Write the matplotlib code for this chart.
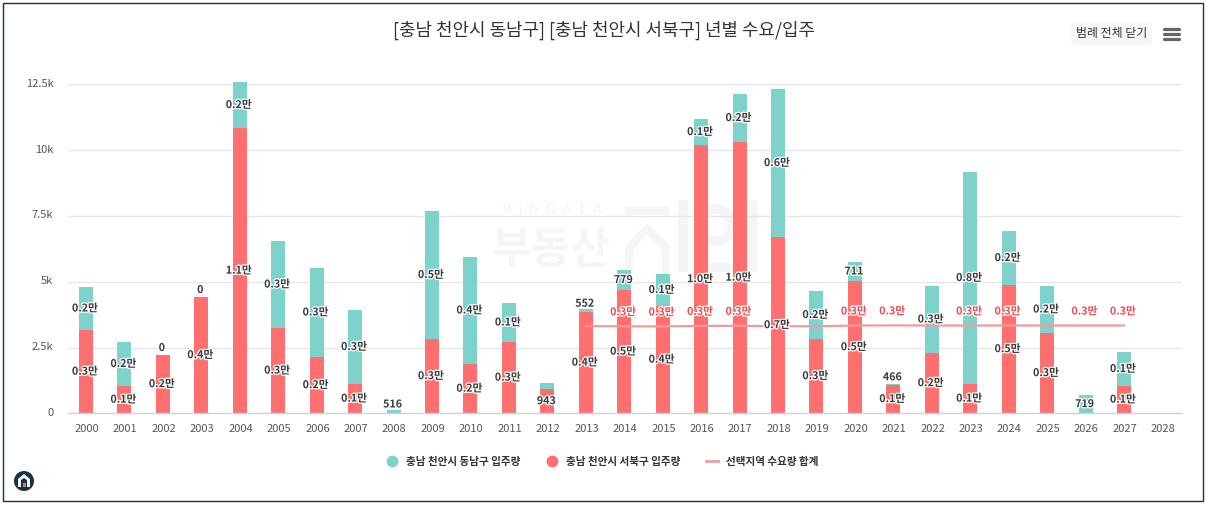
import matplotlib
matplotlib.use("Agg")
import matplotlib.patheffects as pe
import matplotlib.pyplot as plt
from matplotlib.lines import Line2D
from matplotlib.patches import Circle, FancyBboxPatch, Polygon, Rectangle
from matplotlib.transforms import ScaledTranslation

plt.rcParams["font.family"] = ["Noto Sans CJK KR", "DejaVu Sans"]

W, H = 1206, 505

years = list(range(2000, 2029))
seobuk = [3165, 1038, 2215, 4418, 10837, 3241, 2140, 1114, 0, 2823, 1874, 2709, 924, 3849, 4684,
          4077, 10191, 10305, 6697, 2823, 5026, 1076, 2291, 1114, 4874, 3051, 0, 1038, 0]
dongnam = [1633, 1671, 0, 0, 1747, 3304, 3380, 2811, 140, 4862, 4064, 1481, 228, 100, 760,
           1215, 988, 1823, 5621, 1823, 722, 51, 2545, 8052, 2051, 1785, 696, 1291, 0]
seobuk_labels = ["0.3만", "0.1만", "0.2만", "0.4만", "1.1만", "0.3만", "0.2만", "0.1만", "", "0.3만",
                 "0.2만", "0.3만", "943", "0.4만", "0.5만", "0.4만", "1.0만", "1.0만", "0.7만", "0.3만",
                 "0.5만", "0.1만", "0.2만", "0.1만", "0.5만", "0.3만", "", "0.1만", ""]
dongnam_labels = ["0.2만", "0.2만", "0", "0", "0.2만", "0.3만", "0.3만", "0.3만", "516", "0.5만",
                  "0.4만", "0.1만", "", "552", "779", "0.1만", "0.1만", "0.2만", "0.6만", "0.2만",
                  "711", "466", "0.3만", "0.8만", "0.2만", "0.2만", "719", "0.1만", ""]
demand_years = list(range(2013, 2028))
demand = [3310, 3305, 3300, 3320, 3325, 3310, 3305, 3335, 3340, 3335, 3335, 3335, 3335, 3335, 3335]
demand_labels = ["", "0.3만", "0.3만", "0.3만", "0.3만", "", "", "0.3만", "0.3만", "", "0.3만", "0.3만", "",
                 "0.3만", "0.3만"]
yticks = [0, 2500, 5000, 7500, 10000, 12500]
ytick_labels = ["0", "2.5k", "5k", "7.5k", "10k", "12.5k"]

TEAL = "#7dd3cb"
RED = "#ff6f6f"
LINE = "#ee9c9c"
DARK = "#3a3a3a"
WM = "#f5f5f5"
halo = [pe.withStroke(linewidth=1.8, foreground="white")]

fig = plt.figure(figsize=(W / 100, H / 100), dpi=100)
ax = fig.add_axes([68 / W, 1 - 413.3 / H, (1182 - 68) / W, (413.3 - 84.3) / H])
# whole-figure overlay in pixel coords for the page furniture
bg = fig.add_axes([0, 0, 1, 1], zorder=-1)
bg.set_xlim(0, W)
bg.set_ylim(H, 0)
bg.axis("off")
top = fig.add_axes([0, 0, 1, 1], zorder=5)
top.set_xlim(0, W)
top.set_ylim(H, 0)
top.axis("off")
top.patch.set_alpha(0)

bg.add_patch(Rectangle((3, 2.5), 1199.5, 498.5, fc="white", ec="#17324a", lw=1))

# watermark
bg.text(551, 250, "부동산", fontsize=31, color=WM, weight="bold", ha="center", va="center")
bg.text(552, 210, "B  I  G  D  A  T  A", fontsize=10.5, color=WM, ha="center", va="center")
bg.add_patch(Polygon([(625, 273), (625, 246), (647, 223), (670, 246), (670, 273), (662, 273), (662, 250),
                      (647, 234), (633, 250), (633, 273)], fc=WM, ec="none"))
bg.add_patch(Rectangle((625, 207), 45, 8, fc=WM, ec="none"))
bg.add_patch(Rectangle((678, 200), 10, 72, fc=WM, ec="none"))
bg.add_patch(Rectangle((748, 200), 10, 72, fc=WM, ec="none"))
bg.add_patch(Circle((716, 225), 16, fc="none", ec=WM, lw=7))
bg.add_patch(Rectangle((700, 263), 58, 9, fc=WM, ec="none"))
ax.patch.set_alpha(0)

ax.bar(years, seobuk, width=0.364, color=RED, zorder=2, clip_on=False)
ax.bar(years, dongnam, width=0.364, bottom=seobuk, color=TEAL, zorder=2, clip_on=False)
ax.plot(demand_years, demand, color=LINE, lw=1.6, zorder=3)

for x, r, t, rl, tl in zip(years, seobuk, dongnam, seobuk_labels, dongnam_labels):
    if rl:
        ax.annotate(rl, (x, r / 2), xytext=(-1, 0), textcoords="offset pixels", ha="center", va="center",
                    fontsize=7.7, color=DARK, weight="bold", path_effects=halo, zorder=4)
    if tl:
        # thin segments get pushed above the bar, same as the original
        dy = 7 if t < 200 else 0
        ax.annotate(tl, (x, r + t / 2), xytext=(-1, dy), textcoords="offset pixels", ha="center", va="center",
                    fontsize=7.7, color=DARK, weight="bold", path_effects=halo, zorder=4)
for x, v, lab in zip(demand_years, demand, demand_labels):
    if lab:
        ax.annotate(lab, (x, v), xytext=(-1, 14), textcoords="offset pixels", ha="center", va="center",
                    fontsize=7.7, color="#f04a50", weight="bold", path_effects=halo, zorder=4)

ax.set_xlim(1999.532, 2028.51)
ax.set_ylim(0, 12500)
ax.set_xticks(years)
ax.set_xticklabels(years, fontsize=8, color="#555555")
ax.set_yticks(yticks)
ax.set_yticklabels(ytick_labels, fontsize=8, color="#555555")
ax.tick_params(axis="both", length=0)
ax.tick_params(axis="x", pad=7.5)
ax.tick_params(axis="y", pad=10.5)
for lab in ax.get_yticklabels():
    lab.set_transform(lab.get_transform() + ScaledTranslation(0, 1.5 / 100, fig.dpi_scale_trans))
for lab in ax.get_xticklabels():
    lab.set_transform(lab.get_transform() + ScaledTranslation(0.8 / 100, 0, fig.dpi_scale_trans))
ax.grid(axis="y", color="#e6e6e6", lw=1, zorder=0)
ax.set_axisbelow(True)
for s in ["top", "right", "left"]:
    ax.spines[s].set_visible(False)
ax.spines["bottom"].set_color("#ccd3dc")
ax.spines["bottom"].set_linewidth(1)

handles = [
    Line2D([], [], ls="", marker="o", ms=7.5, color=TEAL, label="충남 천안시 동남구 입주량"),
    Line2D([], [], ls="", marker="o", ms=7.5, color=RED, label="충남 천안시 서북구 입주량"),
    Line2D([], [], color=LINE, lw=2, label="선택지역 수요량 합계"),
]
top.legend(handles=handles, loc="center", bbox_to_anchor=(602, 462), bbox_transform=top.transData, ncol=3,
           frameon=False, handlelength=1.2, handletextpad=0.75, columnspacing=2.4,
           prop={"size": 7.6, "weight": "bold"}, labelcolor="#333333")

top.text(604, 30, "[충남 천안시 동남구] [충남 천안시 서북구] 년별 수요/입주", fontsize=12.9, color="#333333",
         ha="center", va="center")

# legend-toggle button and menu icon
top.add_patch(FancyBboxPatch((1071, 22), 81, 23, boxstyle="round,pad=0,rounding_size=3", fc="#f7f7f7", ec="none",
                             mutation_scale=1))
top.text(1112, 34, "범례 전체 닫기", fontsize=8.6, color="#333333", ha="center", va="center")
for y in (28.5, 34, 39):
    top.plot([1164, 1179], [y, y], color="#666666", lw=2.3, solid_capstyle="round")

# logo
top.add_patch(Circle((24, 481), 10, fc="#17324a", ec="none"))
top.add_patch(Polygon([(18, 487), (18, 479), (24, 474), (30, 479), (30, 487), (27, 487), (27, 480), (24, 478),
                       (21, 480), (21, 487)], fc="white", ec="none"))
top.add_patch(Rectangle((23, 483), 3, 4, fc="#f07a3a", ec="none"))

fig.savefig("out.png", dpi=100)
